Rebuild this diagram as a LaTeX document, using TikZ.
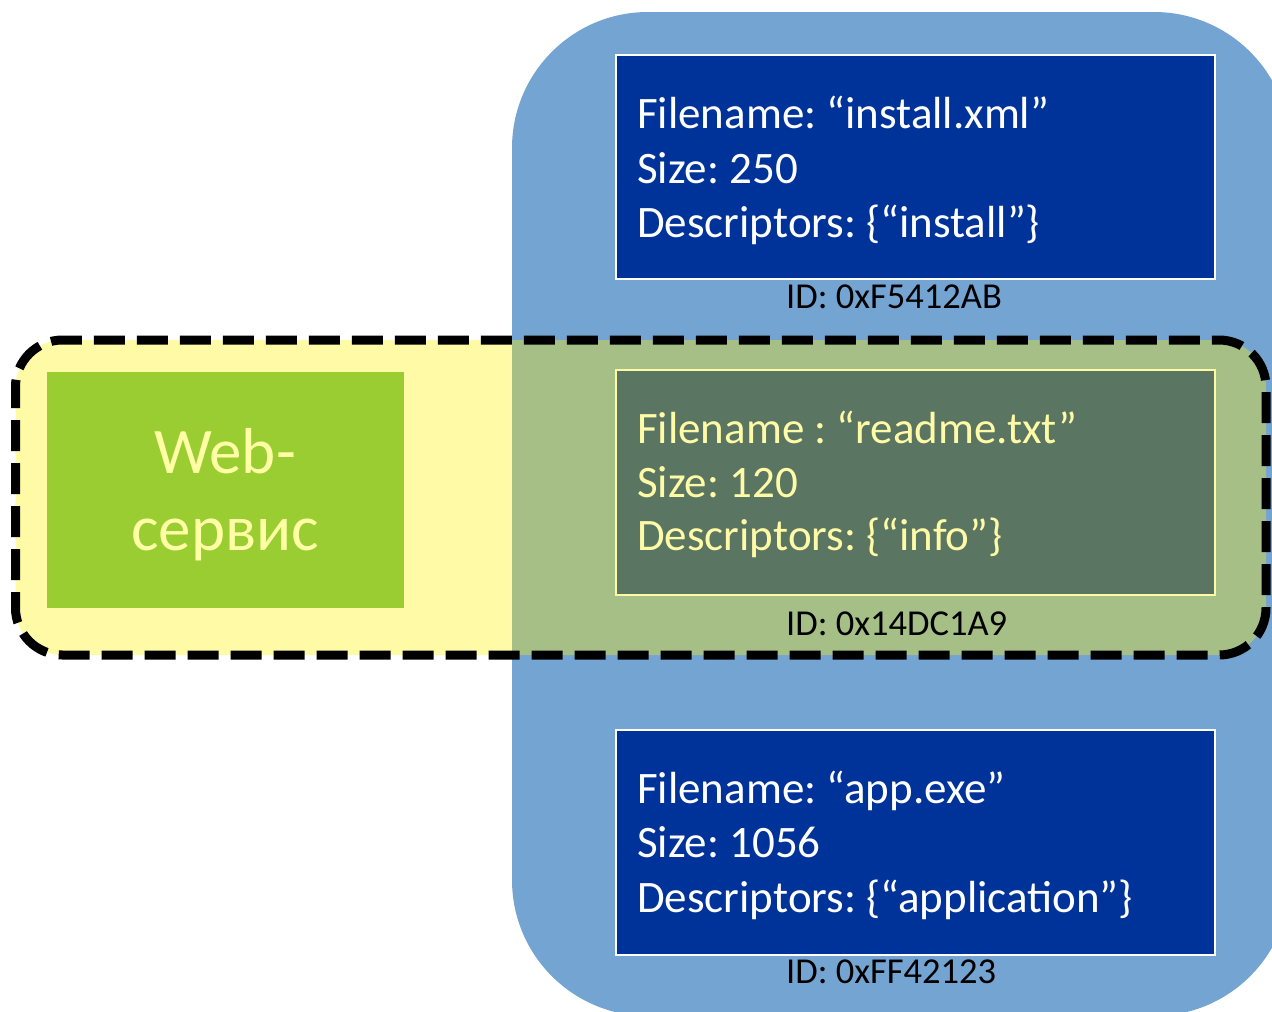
\documentclass[tikz,border=0pt]{standalone}
\usepackage{fontspec}
\setmainfont{Carlito}
\frenchspacing
\definecolor{bgblue}{RGB}{116,164,210}
\definecolor{boxblue}{RGB}{0,51,153}
\definecolor{webgreen}{RGB}{154,205,50}
\definecolor{lightyel}{RGB}{255,255,165}
\tikzset{
  filebox/.style={draw=white, line width=2.5pt, fill=boxblue},
  fline/.style={anchor=base west, inner sep=0pt, text=white, font=\fontsize{45}{54}\selectfont},
  idtext/.style={anchor=base west, inner sep=0pt, text=black, font=\fontsize{36.5}{42}\selectfont},
  webtext/.style={anchor=base, inner sep=0pt, text=lightyel, font=\fontsize{65}{77}\selectfont},
}
\begin{document}
\begin{tikzpicture}[x=1pt,y=-1pt]
\useasboundingbox (0,0) rectangle (1272,1012);
\clip (0,0) rectangle (1272,1012);
% big blue area
\fill[bgblue, rounded corners=136pt] (512,12) rectangle (1290,1016);
% file boxes
\path[filebox] (616,55) rectangle (1215,279);
\node[fline] (a1) at (637,128) {Filename: “install.xml”};
\node[fline] (a2) at (637,183) {Size: 250};
\node[fline] (a3) at (637,237) {Descriptors: \{“install”\}};
\path[filebox] (616,370) rectangle (1215,595);
\node[fline] (b1) at (637,443) {Filename : “readme.txt”};
\node[fline] (b2) at (637,497) {Size: 120};
\node[fline] (b3) at (637,550) {Descriptors: \{“info”\}};
\path[filebox] (616,730) rectangle (1215,955);
\node[fline] (c1) at (637,803) {Filename: “app.exe”};
\node[fline] (c2) at (637,857) {Size: 1056};
\node[fline] (c3) at (637,912) {Descriptors: \{“application”\}};
% yellow overlay
\fill[yellow, fill opacity=0.353, rounded corners=47pt] (15.5,340) rectangle (1266,655);
\draw[black, line width=9pt, dash pattern=on 31pt off 12pt, dash phase=10pt, rounded corners=47pt] (15.5,340) rectangle (1266,655);
% web service box
\fill[webgreen] (47,372) rectangle (404,608);
\node[webtext] (w1) at (225,473) {Web-};
\node[webtext] (w2) at (225,550) {сервис};
% IDs
\node[idtext] (ida) at (786,308) {ID: 0xF5412AB};
\node[idtext] (idb) at (786,635) {ID: 0x14DC1A9};
\node[idtext] (idc) at (786,983) {ID: 0xFF42123};
\end{tikzpicture}
\end{document}
